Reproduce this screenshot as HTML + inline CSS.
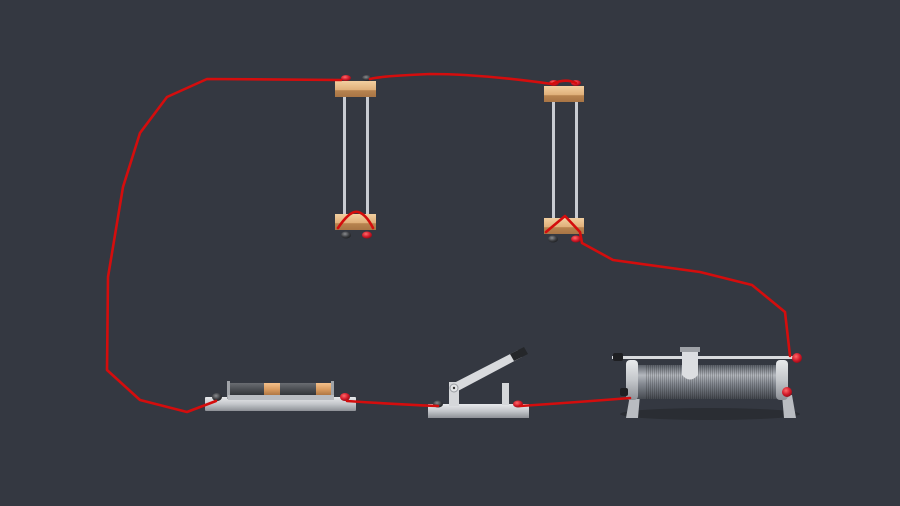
<!DOCTYPE html>
<html><head><meta charset="utf-8"><style>html,body{margin:0;padding:0;background:#343841;}svg{display:block}</style></head>
<body>
<svg width="900" height="506" viewBox="0 0 900 506" xmlns="http://www.w3.org/2000/svg">
<defs>
<linearGradient id="wood" x1="0" y1="0" x2="0" y2="1"><stop offset="0" stop-color="#f2cfa0"/><stop offset="0.55" stop-color="#e0b07a"/><stop offset="0.6" stop-color="#b7834f"/><stop offset="1" stop-color="#a87545"/></linearGradient>
<linearGradient id="metal" x1="0" y1="0" x2="0" y2="1"><stop offset="0" stop-color="#e8eaec"/><stop offset="0.5" stop-color="#c4c7cb"/><stop offset="1" stop-color="#8d9096"/></linearGradient>
<linearGradient id="cyl" x1="0" y1="0" x2="0" y2="1"><stop offset="0" stop-color="#5a5f68"/><stop offset="0.3" stop-color="#b4b8be"/><stop offset="0.55" stop-color="#858a92"/><stop offset="1" stop-color="#454950"/></linearGradient>
<pattern id="coil" width="2" height="10" patternUnits="userSpaceOnUse"><rect width="1" height="10" fill="#000" opacity="0.18"/></pattern>
<linearGradient id="bat" x1="0" y1="0" x2="0" y2="1"><stop offset="0" stop-color="#6a6d72"/><stop offset="0.5" stop-color="#4a4d52"/><stop offset="1" stop-color="#2e3034"/></linearGradient>
<linearGradient id="cu" x1="0" y1="0" x2="0" y2="1"><stop offset="0" stop-color="#f4c08a"/><stop offset="0.5" stop-color="#d99b5f"/><stop offset="1" stop-color="#a8703e"/></linearGradient>
<radialGradient id="red" cx="0.4" cy="0.35" r="0.7"><stop offset="0" stop-color="#ff6a6a"/><stop offset="0.6" stop-color="#d01828"/><stop offset="1" stop-color="#8a0c14"/></radialGradient>
<radialGradient id="blk" cx="0.4" cy="0.35" r="0.7"><stop offset="0" stop-color="#8a8c90"/><stop offset="0.6" stop-color="#3a3c40"/><stop offset="1" stop-color="#1c1d20"/></radialGradient>
</defs>

<!-- Holder 1 -->
<rect x="343" y="96" width="3" height="120" fill="#c9ccd2"/>
<rect x="366" y="96" width="3" height="120" fill="#c9ccd2"/>
<rect x="335" y="81" width="41" height="16" fill="url(#wood)"/>
<rect x="335" y="214" width="41" height="16" fill="url(#wood)"/>
<ellipse cx="346" cy="78" rx="5" ry="3" fill="url(#red)"/>
<ellipse cx="367" cy="78" rx="5" ry="3" fill="url(#blk)"/>
<ellipse cx="346" cy="235" rx="5" ry="3.5" fill="url(#blk)"/>
<ellipse cx="367" cy="235" rx="5" ry="3.5" fill="url(#red)"/>

<!-- Holder 2 -->
<rect x="552" y="101" width="3" height="118" fill="#c9ccd2"/>
<rect x="575" y="101" width="3" height="118" fill="#c9ccd2"/>
<rect x="544" y="86" width="40" height="16" fill="url(#wood)"/>
<rect x="544" y="218" width="40" height="16" fill="url(#wood)"/>
<ellipse cx="554" cy="83" rx="5" ry="3" fill="url(#red)"/>
<ellipse cx="576" cy="83" rx="5" ry="3" fill="url(#red)"/>
<ellipse cx="553" cy="239" rx="5" ry="3.5" fill="url(#blk)"/>
<ellipse cx="576" cy="239" rx="5" ry="3.5" fill="url(#red)"/>

<!-- Battery -->
<rect x="205" y="397" width="151" height="14" rx="1" fill="url(#metal)"/>
<rect x="227" y="381" width="3" height="18" fill="#a0a3a8"/>
<rect x="331" y="381" width="3" height="18" fill="#a0a3a8"/>
<rect x="230" y="383" width="101" height="13" fill="url(#bat)"/>
<rect x="264" y="383" width="16" height="13" fill="url(#cu)"/>
<rect x="316" y="383" width="15" height="13" fill="url(#cu)"/>
<rect x="228" y="395" width="106" height="5" fill="#b9bcc1"/>
<ellipse cx="217" cy="397" rx="5" ry="4" fill="url(#blk)"/>
<ellipse cx="345" cy="397" rx="5" ry="4" fill="url(#red)"/>

<!-- Switch -->
<rect x="428" y="404" width="101" height="14" fill="url(#metal)"/>
<rect x="449" y="382" width="10" height="24" fill="#d5d7da"/>
<rect x="502" y="383" width="7" height="22" fill="#d5d7da"/>
<polygon points="452,384 518,350 522,357 456,392" fill="#d8dadd"/>
<polygon points="510,354 524,347 528,354 514,361" fill="#25272a"/>
<circle cx="454" cy="388" r="4" fill="#e4e6e8" stroke="#9a9da2"/>
<circle cx="454" cy="388" r="1.2" fill="#333"/>
<ellipse cx="438" cy="404" rx="5" ry="3.5" fill="url(#blk)"/>
<ellipse cx="518" cy="404" rx="5" ry="3.5" fill="url(#red)"/>

<!-- Rheostat -->
<ellipse cx="710" cy="414" rx="90" ry="6" fill="#2a2d33"/>
<polygon points="630,395 640,395 638,418 626,418" fill="#b9bcc1"/>
<polygon points="782,395 792,395 796,418 784,418" fill="#b9bcc1"/>
<rect x="636" y="365" width="146" height="34" fill="url(#cyl)"/>
<rect x="645" y="365" width="128" height="34" fill="url(#coil)"/>
<rect x="626" y="360" width="12" height="40" rx="4" fill="url(#metal)"/>
<rect x="776" y="360" width="12" height="40" rx="4" fill="url(#metal)"/>
<rect x="612" y="356" width="185" height="3" fill="#d9dbde"/>
<rect x="613" y="353" width="10" height="8" rx="2" fill="#1e1f22"/>
<rect x="620" y="388" width="8" height="8" rx="2" fill="#1e1f22"/>
<rect x="680" y="347" width="20" height="5" fill="#9fa2a7"/>
<path d="M682 352 H698 V375 Q690 384 682 375 Z" fill="#dcdee1"/>
<circle cx="797" cy="358" r="5" fill="url(#red)"/>
<circle cx="787" cy="392" r="5" fill="url(#red)"/>

<!-- Wires -->
<g fill="none" stroke="#d40d0d" stroke-width="2.6" stroke-linejoin="round" stroke-linecap="round">
<polyline points="341,80 207,79 167,97 140,133 123,187 108,277 107,370 140,400 187,412 216,401"/>
<path d="M370,79 Q380,76 430,74 Q480,74 552,84 Q565,78 576,83"/>
<path d="M338,228 Q350,210 358,212 Q366,214 373,228"/>
<path d="M546,232 L565,216 L580,232 L582,243 L613,260 L700,272 L752,285 L785,312 L790,356"/>
<path d="M347,401 Q390,404 438,406"/>
<path d="M520,406 Q580,402 630,398"/>
</g>
</svg>
</body></html>
